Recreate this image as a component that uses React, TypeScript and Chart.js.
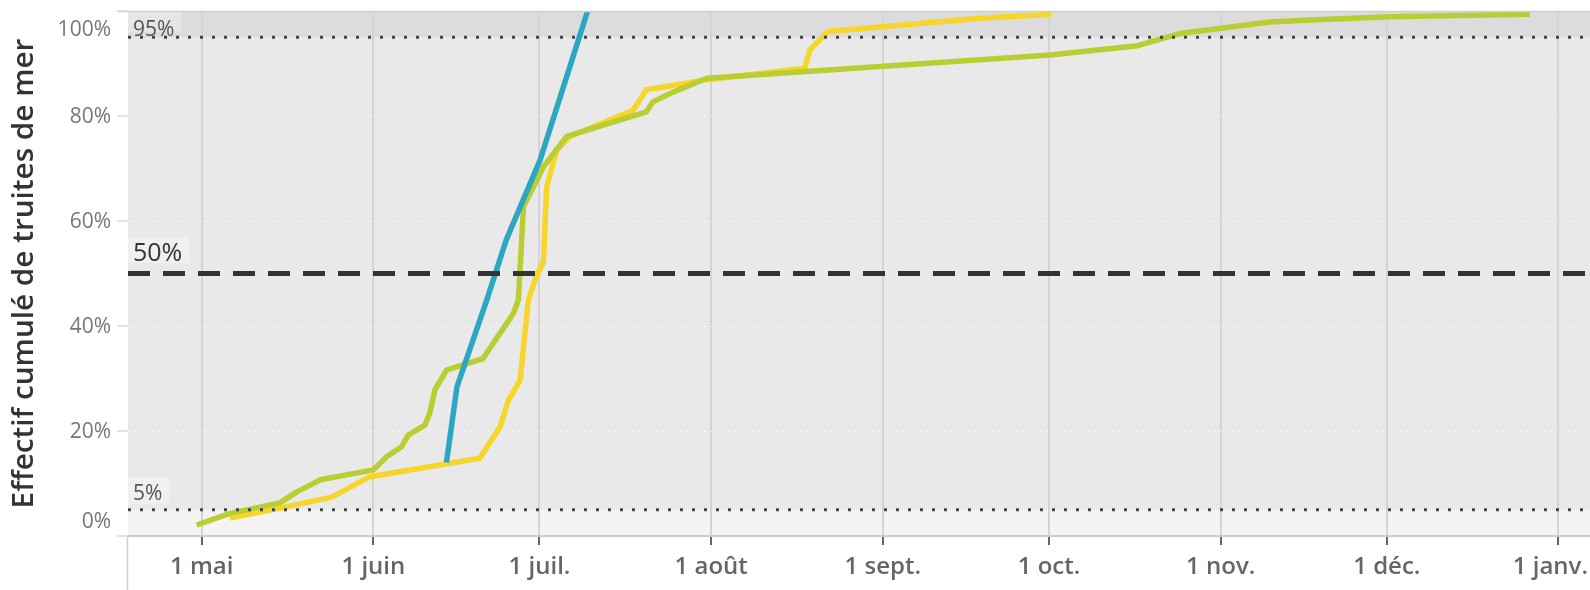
import React, { useEffect, useRef } from "react";
import { Chart, registerables } from "chart.js";

Chart.register(...registerables);

// Days counted from 1 May (day 0)
const monthTicks = [0, 31, 61, 92, 123, 153, 184, 214, 245];
const monthLabels = ["1 mai", "1 juin", "1 juil.", "1 août", "1 sept.", "1 oct.", "1 nov.", "1 déc.", "1 janv."];

const yTicks = [0, 20, 40, 60, 80, 100];
const yTickLabels = ["0%", "20%", "40%", "60%", "80%", "100%"];

const refValues = [95, 50, 5];
const refLabels = ["95%", "50%", "5%"];

const axisTitle = "Effectif cumulé de truites de mer";

const blueDays = [44.2, 46.1, 51.5, 55.0, 61.1, 70.3];
const blueValues = [14.0, 28.4, 45.0, 56.4, 71.6, 102];

const greenDays = [
  -0.9, 5.1, 14.1, 17.2, 21.4, 31.0, 33.4, 36.1, 37.3, 40.3, 41.2, 42.1, 44.2, 50.8, 56.3, 57.2, 58.1,
  61.7, 65.9, 80.3, 81.5, 85.2, 91.2, 153.2, 169.0, 176.6, 184.0, 192.9, 200.1, 214.5, 239.8,
];
const greenValues = [
  2.1, 4.3, 6.3, 8.4, 10.7, 12.6, 15.1, 17.0, 19.2, 21.1, 23.4, 27.8, 31.6, 33.8, 42.4, 45.0, 62.7,
  70.3, 76.1, 80.8, 82.7, 84.6, 87.2, 91.6, 93.4, 95.7, 96.7, 97.9, 98.3, 98.9, 99.4,
];

const yellowDays = [
  5.1, 14.1, 23.5, 30.4, 50.2, 53.9, 55.4, 57.5, 59.0, 60.2, 61.4, 61.7, 62.3, 64.1, 66.5, 77.9, 80.3,
  91.2, 108.9, 109.8, 113.1, 140.5, 153.4,
];
const yellowValues = [
  3.4, 5.3, 7.4, 11.3, 14.8, 20.8, 25.9, 29.7, 45.0, 48.8, 51.6, 52.0, 66.5, 73.5, 76.1, 81.1, 85.0,
  86.9, 89.1, 92.6, 96.1, 98.6, 99.4,
];

const X_MIN = -13.3;
const X_MAX = 254.3;
const VIEW_W = 1590;

const FONT = "'Open Sans', 'DejaVu Sans', sans-serif";

const toPoints = (xs: number[], ys: number[]) => xs.map((x, i) => ({ x, y: ys[i] }));

const refStyles = [
  { size: 21, color: "#555", bg: "#e6e6e6", boxTop: -25, boxBottom: -5, textDy: -7.5 },
  { size: 25, color: "#333", bg: "#f0f0f0", boxTop: -36, boxBottom: -10.5, textDy: -20 },
  { size: 21, color: "#555", bg: "#f0f0f0", boxTop: -33, boxBottom: -6, textDy: -15.5 },
];

const decorPlugin = {
  id: "decor",
  beforeDraw(chart: any) {
    const { ctx, chartArea: a, scales } = chart;
    const y = scales.y;
    const w = a.right - a.left;
    ctx.save();
    ctx.fillStyle = "#e9e9e9";
    ctx.fillRect(a.left, a.top, w, a.bottom - a.top);
    const y95 = y.getPixelForValue(95);
    const y5 = y.getPixelForValue(5);
    ctx.fillStyle = "#dcdcdc";
    ctx.fillRect(a.left, a.top, w, y95 - a.top);
    ctx.fillStyle = "#f4f4f4";
    ctx.fillRect(a.left, y5, w, a.bottom - y5);
    ctx.restore();
  },
  afterDraw(chart: any) {
    const { ctx, chartArea: a, scales } = chart;
    const y = scales.y;
    const x = scales.x;
    ctx.save();
    // top border
    ctx.strokeStyle = "#cfcfcf";
    ctx.lineWidth = 1.5;
    ctx.beginPath();
    ctx.moveTo(a.left - 11, a.top + 0.5);
    ctx.lineTo(a.right, a.top + 0.5);
    ctx.stroke();
    // left line below plot
    ctx.beginPath();
    ctx.moveTo(a.left - 0.5, a.bottom);
    ctx.lineTo(a.left - 0.5, chart.height);
    ctx.stroke();
    // y tick marks + labels
    ctx.font = `400 21px ${FONT}`;
    ctx.fillStyle = "#777";
    ctx.textAlign = "right";
    ctx.textBaseline = "middle";
    yTicks.forEach((v, i) => {
      const p = y.getPixelForValue(v);
      ctx.strokeStyle = "#dadada";
      ctx.lineWidth = 1.5;
      ctx.beginPath();
      ctx.moveTo(a.left - 11, p);
      ctx.lineTo(a.left, p);
      ctx.stroke();
      const ly = Math.min(Math.max(p + 1, a.top + 19), a.bottom - 14);
      ctx.fillText(yTickLabels[i], a.left - 17, ly);
    });
    // x tick labels (kept inside the visible width)
    ctx.font = `600 24px ${FONT}`;
    ctx.fillStyle = "#666";
    ctx.textAlign = "center";
    monthTicks.forEach((v, i) => {
      const p = x.getPixelForValue(v);
      const tw = ctx.measureText(monthLabels[i]).width;
      const cx = Math.min(p, VIEW_W - 2 - tw / 2);
      ctx.fillText(monthLabels[i], cx, a.bottom + 31);
    });
    // reference labels
    refValues.forEach((v, i) => {
      const s = refStyles[i];
      const p = y.getPixelForValue(v);
      ctx.font = `400 ${s.size}px ${FONT}`;
      const tw = ctx.measureText(refLabels[i]).width;
      const top = Math.max(p + s.boxTop, a.top + 1);
      ctx.fillStyle = s.bg;
      ctx.fillRect(a.left, top, tw + 12, p + s.boxBottom - top);
      ctx.fillStyle = s.color;
      ctx.textAlign = "left";
      ctx.fillText(refLabels[i], a.left + 5, p + s.textDy);
    });
    ctx.restore();
  },
};

export default function App() {
  const ref = useRef<HTMLCanvasElement | null>(null);

  useEffect(() => {
    if (!ref.current) return;
    const lineStyle = { pointRadius: 0, borderWidth: 5.5, borderJoinStyle: "round", clip: 0 };
    const chart = new Chart(ref.current, {
      type: "line",
      data: {
        datasets: [
          {
            label: refLabels[0],
            data: [{ x: X_MIN, y: refValues[0] }, { x: X_MAX, y: refValues[0] }],
            borderColor: "#444",
            borderWidth: 3,
            borderDash: [3, 9],
            pointRadius: 0,
            order: 0,
          },
          {
            label: refLabels[1],
            data: [{ x: X_MIN, y: refValues[1] }, { x: X_MAX, y: refValues[1] }],
            borderColor: "#333",
            borderWidth: 5,
            borderDash: [22, 13],
            pointRadius: 0,
            order: 0,
          },
          {
            label: refLabels[2],
            data: [{ x: X_MIN, y: refValues[2] }, { x: X_MAX, y: refValues[2] }],
            borderColor: "#444",
            borderWidth: 3,
            borderDash: [3, 9],
            pointRadius: 0,
            order: 0,
          },
          {
            label: "bleu",
            data: toPoints(blueDays, blueValues),
            borderColor: "#2ca7c2",
            ...lineStyle,
            order: 1,
          },
          {
            label: "vert",
            data: toPoints(greenDays, greenValues),
            borderColor: "#bacd32",
            ...lineStyle,
            order: 2,
          },
          {
            label: "jaune",
            data: toPoints(yellowDays, yellowValues),
            borderColor: "#f8d52a",
            ...lineStyle,
            order: 3,
          },
        ] as any,
      },
      options: {
        animation: false,
        responsive: false,
        layout: { padding: { top: 11, left: 0, right: 0, bottom: 0 } },
        plugins: { legend: { display: false }, tooltip: { enabled: false } },
        elements: { line: { tension: 0 } },
        scales: {
          x: {
            type: "linear",
            min: X_MIN,
            max: X_MAX,
            afterBuildTicks: (s: any) => {
              s.ticks = monthTicks.map((v) => ({ value: v }));
            },
            afterFit: (s: any) => {
              s.height = 54;
            },
            ticks: { display: false },
            grid: {
              color: "#d4d4d4",
              lineWidth: 2,
              drawTicks: true,
              tickLength: 9,
              tickColor: "#666",
              tickWidth: 2,
            },
            border: { display: true, color: "#cccccc", width: 2 },
          },
          y: {
            type: "linear",
            min: 0,
            max: 100,
            afterBuildTicks: (s: any) => {
              s.ticks = yTicks.map((v) => ({ value: v }));
            },
            afterFit: (s: any) => {
              s.width = 128;
            },
            ticks: { display: false },
            grid: {
              color: "rgba(255,255,255,0.55)",
              lineWidth: 1,
              drawTicks: false,
            },
            border: { display: false, dash: [2, 4] },
            title: {
              display: true,
              text: axisTitle,
              color: "#333",
              font: { family: FONT, size: 29.7, weight: "600", lineHeight: 1.2 },
              padding: { top: 7, bottom: 0 },
            },
          },
        },
      } as any,
      plugins: [decorPlugin],
    });
    return () => chart.destroy();
  }, []);

  return (
    <div
      style={{
        position: "absolute",
        left: 0,
        top: 0,
        width: VIEW_W,
        height: 590,
        overflow: "hidden",
        background: "#fff",
      }}
    >
      <canvas ref={ref} width={1610} height={590} style={{ display: "block" }} />
    </div>
  );
}
